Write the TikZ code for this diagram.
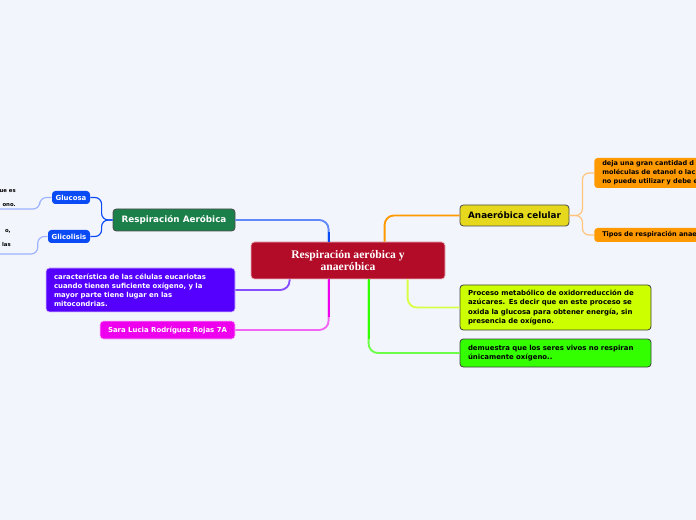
\documentclass[tikz,border=0pt]{standalone}
\usepackage{fontspec}
\setmainfont{DejaVu Sans}
\newfontfamily\titlefont{Liberation Serif}
\definecolor{bg}{HTML}{F3F5FD}
\definecolor{crim}{HTML}{B20C28}
\definecolor{dgreen}{HTML}{1B7F4A}
\definecolor{blu}{HTML}{0A4BF5}
\definecolor{lblu}{HTML}{9DB3FF}
\definecolor{viol}{HTML}{5500FF}
\definecolor{lviol}{HTML}{B79CFF}
\definecolor{mag}{HTML}{EE00EE}
\definecolor{lmag}{HTML}{F5A8F5}
\definecolor{ylw}{HTML}{E6D81C}
\definecolor{org}{HTML}{FF9900}
\definecolor{lorg}{HTML}{FFC37A}
\definecolor{lime}{HTML}{CCFF00}
\definecolor{llime}{HTML}{E6FF8A}
\definecolor{grn}{HTML}{33FF00}
\definecolor{lgrn}{HTML}{A8FF90}
\begin{document}
\begin{tikzpicture}[x=0.75pt,y=-0.75pt,
  box/.style={rounded corners=2.5pt, inner sep=0pt, font=\bfseries\fontsize{5.2}{6.8}\selectfont},
  lbox/.style={box, align=left, inner xsep=6pt},
  conn/.style={line width=1.4pt, rounded corners=7pt},
  thin/.style={line width=0.9pt, rounded corners=5pt},
  frag/.style={inner sep=0pt, align=right, font=\bfseries\fontsize{4}{10.5}\selectfont}]
\useasboundingbox (0,0) rectangle (696,520);
\fill[bg] (0,0) rectangle (696,520);
\clip (0,0) rectangle (696,520);

% nodes
\node[box, fill=crim, draw=white!70!crim, line width=0.6pt, text=white, minimum width=145.5pt, minimum height=27.75pt, align=center, font=\titlefont\bfseries\fontsize{8.7}{9.6}\selectfont] (central) at (348,260.5) {Respiración aeróbica y\\anaeróbica};

\node[box, fill=dgreen, draw=black!70, line width=0.6pt, text=white, minimum width=91.5pt, minimum height=16.5pt, font=\bfseries\fontsize{6.6}{8}\selectfont] (ra) at (174,220) {Respiración Aeróbica};

\node[box, fill=blu, text=white, minimum width=28.5pt, minimum height=9.75pt, font=\bfseries\fontsize{5.2}{6}\selectfont] (glucosa) at (71,197.5) {Glucosa};
\node[box, fill=blu, text=white, minimum width=31.5pt, minimum height=9.75pt, font=\bfseries\fontsize{5.2}{6}\selectfont] (glicolisis) at (69,236.5) {Glicolisis};

\node[lbox, fill=viol, draw=white!75!viol, line width=0.5pt, text=white, minimum width=141.75pt, minimum height=33pt, text width=129.75pt] (purple) at (140.5,290) {característica de las células eucariotas\\cuando tienen suficiente oxígeno, y la\\mayor parte tiene lugar en las\\mitocondrias.};

\node[box, fill=mag, draw=white!75!mag, line width=0.5pt, text=white, minimum width=101.25pt, minimum height=13.5pt] (sara) at (167.5,330) {Sara Lucia Rodríguez Rojas 7A};

\node[box, fill=ylw, draw=black!70, line width=0.6pt, text=black, minimum width=81.75pt, minimum height=15.75pt, font=\bfseries\fontsize{6.6}{8}\selectfont] (ana) at (514.5,215.5) {Anaeróbica celular};

\node[lbox, fill=org, anchor=west, minimum width=150pt, minimum height=22.5pt, text width=138pt, inner xsep=4pt, font=\bfseries\fontsize{4.9}{6.6}\selectfont] (o1) at (594,173) {deja una gran cantidad d\\moléculas de etanol o lac\\no puede utilizar y debe e};
\node[lbox, fill=org, anchor=west, minimum width=150pt, minimum height=10.5pt, text width=138pt, inner xsep=4pt, font=\bfseries\fontsize{4.9}{6.6}\selectfont] (o2) at (594,235) {Tipos de respiración anae};

\node[lbox, fill=lime, draw=black!75, line width=0.6pt, minimum width=143.25pt, minimum height=33.75pt, text width=131.25pt] (limeb) at (555.5,307.5) {Proceso metabólico de oxidorreducción de\\azúcares. Es decir que en este proceso se\\oxida la glucosa para obtener energía, sin\\presencia de oxígeno.};

\node[lbox, fill=grn, draw=black!75, line width=0.6pt, minimum width=143.25pt, minimum height=21pt, text width=131.25pt] (greenb) at (555.5,353) {demuestra que los seres vivos no respiran\\únicamente oxígeno..};

% cut-off fragments on the left
\node[frag, anchor=south east] (gt1) at (16,207) {ue es\\ono.};
\node[frag, anchor=south east] (gt2) at (11,247) {o,\\las};
\coordinate (g1end) at (0,209);
\coordinate (g2end) at (0,254);

% connectors
\draw[conn, lblu!60!blu] ([xshift=58.5pt]central.north west) |- (ra.east);
\draw[line width=1.4pt, blu] ([xshift=58.5pt]central.north west) -- ++(0,-10);
\draw[conn, org] ([xshift=100.5pt]central.north west) |- (ana.west);
\draw[conn, lviol!50!viol] ([xshift=29.25pt]central.south west) |- (purple.east);
\draw[conn, lmag!60!mag] ([xshift=58.5pt]central.south west) |- (sara.east);
\draw[line width=1.4pt, mag] ([xshift=58.5pt]central.south west) -- ++(0,38);
\draw[conn, llime!50!lime] ([xshift=117.75pt]central.south west) |- (limeb.west);
\draw[conn, lgrn!50!grn] ([xshift=88.5pt]central.south west) |- (greenb.west);
\draw[line width=1.4pt, grn] ([xshift=88.5pt]central.south west) -- ++(0,60);

\draw[thin, blu] (ra.west) -- ++(-11,0) |- (glucosa.east);
\draw[thin, blu] (ra.west) -- ++(-11,0) |- (glicolisis.east);
\draw[thin, lblu] (glucosa.west) -- ++(-12,0) |- (g1end);
\draw[thin, lblu] (glicolisis.west) -- ++(-10,0) |- (g2end);
\draw[thin, lorg] (ana.east) -- ++(13,0) |- (o1.west);
\draw[thin, lorg] (ana.east) -- ++(13,0) |- (o2.west);
\end{tikzpicture}
\end{document}
